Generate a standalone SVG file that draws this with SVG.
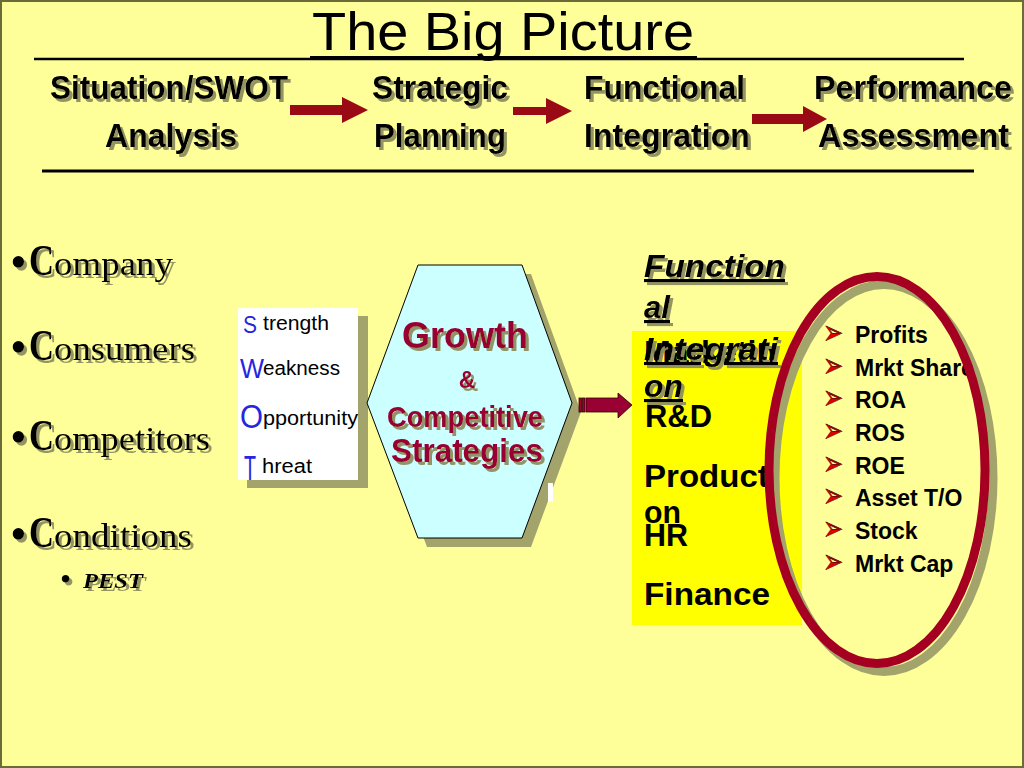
<svg xmlns="http://www.w3.org/2000/svg" width="1024" height="768" viewBox="0 0 1024 768">
<defs>
<filter id="ts" x="-10%" y="-20%" width="130%" height="150%">
<feDropShadow dx="3" dy="3" stdDeviation="0.5" flood-color="#8f8f5e" flood-opacity="0.95"/>
</filter>
<style>
.bg{fill:#FFFF99;stroke:#6b6b3a;stroke-width:2}
.sh{fill:#A3A36C}
.hd{font-family:"Liberation Sans",Arial,sans-serif;font-weight:bold;font-size:33px;fill:#000}
.arr{fill:#990A14}
.sw{font-family:"Liberation Sans Narrow","Liberation Sans",Arial,sans-serif;font-size:20px;fill:#000}
.swl{font-family:"Liberation Sans Narrow","Liberation Sans",Arial,sans-serif;fill:#2626E0}
.gr{font-family:"Liberation Sans",Arial,sans-serif;font-weight:bold;fill:#990033;text-anchor:start}
.tm{font-family:"Liberation Serif","Times New Roman",serif;fill:#000}
.fi{font-family:"Liberation Sans",Arial,sans-serif;font-weight:bold;font-style:italic;font-size:31px;fill:#000;text-decoration:underline}
.bx{font-family:"Liberation Sans",Arial,sans-serif;font-weight:bold;font-size:31px;fill:#000}
.bl{font-family:"Liberation Sans",Arial,sans-serif;font-weight:bold;font-size:23px;fill:#000}
.chev{font-family:"DejaVu Sans",sans-serif;font-size:34px;fill:#E00000;stroke:#5a0000;stroke-width:0.6}
</style>
</defs>

<rect class="bg" x="1" y="1" width="1022" height="766"/>

<g id="title">
<text x="312" y="50" textLength="382" lengthAdjust="spacingAndGlyphs" style="font-family:'Liberation Sans',Arial,sans-serif;font-size:54px;fill:#000">The Big Picture</text>
<line x1="310" y1="57.5" x2="697" y2="57.5" stroke="#000" stroke-width="3"/>
<line x1="34" y1="59" x2="964" y2="59" stroke="#000" stroke-width="2.5"/>
<line x1="42" y1="171" x2="974" y2="171" stroke="#000" stroke-width="3"/>
</g>

<g id="stage-swot" filter="url(#ts)">
<text class="hd" x="50" y="99" textLength="238" lengthAdjust="spacingAndGlyphs">Situation/SWOT</text>
<text class="hd" x="105" y="147" textLength="132" lengthAdjust="spacingAndGlyphs">Analysis</text>
</g>
<g id="stage-strategic" filter="url(#ts)">
<text class="hd" x="372" y="99" textLength="136" lengthAdjust="spacingAndGlyphs">Strategic</text>
<text class="hd" x="374" y="147" textLength="132" lengthAdjust="spacingAndGlyphs">Planning</text>
</g>
<g id="stage-functional" filter="url(#ts)">
<text class="hd" x="584" y="99" textLength="161" lengthAdjust="spacingAndGlyphs">Functional</text>
<text class="hd" x="584" y="147" textLength="166" lengthAdjust="spacingAndGlyphs">Integration</text>
</g>
<g id="stage-performance" filter="url(#ts)">
<text class="hd" x="814" y="99" textLength="198" lengthAdjust="spacingAndGlyphs">Performance</text>
<text class="hd" x="818" y="147" textLength="191" lengthAdjust="spacingAndGlyphs">Assessment</text>
</g>

<g id="four-c" filter="url(#ts)">
<text class="tm" x="10" y="278" font-size="48">•</text>
<text class="tm" x="29" y="275" font-size="45" font-weight="bold" textLength="25" lengthAdjust="spacingAndGlyphs">C</text>
<text class="tm" x="54" y="275" font-size="33" textLength="119" lengthAdjust="spacingAndGlyphs">ompany</text>
<text class="tm" x="10" y="363" font-size="48">•</text>
<text class="tm" x="29" y="360" font-size="45" font-weight="bold" textLength="25" lengthAdjust="spacingAndGlyphs">C</text>
<text class="tm" x="54" y="360" font-size="33" textLength="141" lengthAdjust="spacingAndGlyphs">onsumers</text>
<text class="tm" x="10" y="453" font-size="48">•</text>
<text class="tm" x="29" y="450" font-size="45" font-weight="bold" textLength="25" lengthAdjust="spacingAndGlyphs">C</text>
<text class="tm" x="54" y="450" font-size="33" textLength="156" lengthAdjust="spacingAndGlyphs">ompetitors</text>
<text class="tm" x="10" y="550" font-size="48">•</text>
<text class="tm" x="29" y="547" font-size="45" font-weight="bold" textLength="25" lengthAdjust="spacingAndGlyphs">C</text>
<text class="tm" x="54" y="547" font-size="33" textLength="138" lengthAdjust="spacingAndGlyphs">onditions</text>
<text class="tm" x="60" y="590" font-size="32">•</text>
<text class="tm" x="83" y="588" font-size="22" font-weight="bold" font-style="italic" textLength="60" lengthAdjust="spacingAndGlyphs">PEST</text>
</g>

<g id="swot-box">
<rect class="sh" x="247" y="316" width="121" height="172"/>
<rect x="238" y="308" width="120" height="172" fill="#FFFFFF"/>
<text class="swl" x="243" y="333" font-size="24" textLength="14" lengthAdjust="spacingAndGlyphs">S</text>
<text class="sw" x="263" y="330" textLength="66" lengthAdjust="spacingAndGlyphs">trength</text>
<text class="swl" x="240" y="378" font-size="28" textLength="24" lengthAdjust="spacingAndGlyphs">W</text>
<text class="sw" x="263" y="375" textLength="77" lengthAdjust="spacingAndGlyphs">eakness</text>
<text class="swl" x="240" y="428" font-size="34" textLength="23" lengthAdjust="spacingAndGlyphs">O</text>
<text class="sw" x="263" y="425" textLength="95" lengthAdjust="spacingAndGlyphs">pportunity</text>
<text class="swl" x="244" y="480" font-size="35" textLength="12" lengthAdjust="spacingAndGlyphs">T</text>
<text class="sw" x="262" y="473" textLength="50" lengthAdjust="spacingAndGlyphs">hreat</text>
</g>

<g id="strategies-hexagon">
<polygon class="sh" points="427,274 531,274 581,412 531,547 427,547 376,412"/>
<rect x="548" y="483" width="5" height="19" fill="#FFFFFF"/>
<polygon points="418,265 522,265 572,403 522,538 418,538 367,403" fill="#CCFFFF" stroke="#000" stroke-width="1"/>
<g filter="url(#ts)">
<text class="gr" x="402" y="348" font-size="36" textLength="126" lengthAdjust="spacingAndGlyphs">Growth</text>
<text class="gr" x="467" y="388" font-size="23" style="text-anchor:middle">&amp;</text>
<text class="gr" x="387" y="427" font-size="30" textLength="156" lengthAdjust="spacingAndGlyphs">Competitive</text>
<text class="gr" x="391" y="462" font-size="33" textLength="152" lengthAdjust="spacingAndGlyphs">Strategies</text>
</g>
</g>

<g id="functional-integration">
<rect x="632" y="331" width="170" height="294" fill="#FFFF00"/>
<text class="bx" x="644" y="363" textLength="132" lengthAdjust="spacingAndGlyphs">Marketin</text>
<g filter="url(#ts)">
<text class="fi" x="644" y="277" textLength="141" lengthAdjust="spacingAndGlyphs">Function</text>
<text class="fi" x="644" y="318" textLength="26" lengthAdjust="spacingAndGlyphs">al</text>
<text class="fi" x="644" y="360" textLength="134" lengthAdjust="spacingAndGlyphs">Integrati</text>
<text class="fi" x="644" y="397" textLength="39" lengthAdjust="spacingAndGlyphs">on</text>
</g>
<text class="bx" x="645" y="427" textLength="67" lengthAdjust="spacingAndGlyphs">R&amp;D</text>
<text class="bx" x="644" y="487" textLength="134" lengthAdjust="spacingAndGlyphs">Producti</text>
<text class="bx" x="644" y="523" textLength="37" lengthAdjust="spacingAndGlyphs">on</text>
<text class="bx" x="644" y="546" textLength="44" lengthAdjust="spacingAndGlyphs">HR</text>
<text class="bx" x="644" y="605" textLength="126" lengthAdjust="spacingAndGlyphs">Finance</text>
</g>

<g id="performance-measures">
<ellipse cx="884" cy="478" rx="109" ry="193.5" fill="none" stroke="#A3A36C" stroke-width="9"/>
<text class="chev" x="823" y="344" textLength="20" lengthAdjust="spacingAndGlyphs">➢</text>
<text class="bl" x="855" y="343">Profits</text>
<text class="chev" x="823" y="377" textLength="20" lengthAdjust="spacingAndGlyphs">➢</text>
<text class="bl" x="855" y="376">Mrkt Share</text>
<text class="chev" x="823" y="409" textLength="20" lengthAdjust="spacingAndGlyphs">➢</text>
<text class="bl" x="855" y="408">ROA</text>
<text class="chev" x="823" y="442" textLength="20" lengthAdjust="spacingAndGlyphs">➢</text>
<text class="bl" x="855" y="441">ROS</text>
<text class="chev" x="823" y="475" textLength="20" lengthAdjust="spacingAndGlyphs">➢</text>
<text class="bl" x="855" y="474">ROE</text>
<text class="chev" x="823" y="507" textLength="20" lengthAdjust="spacingAndGlyphs">➢</text>
<text class="bl" x="855" y="506">Asset T/O</text>
<text class="chev" x="823" y="540" textLength="20" lengthAdjust="spacingAndGlyphs">➢</text>
<text class="bl" x="855" y="539">Stock</text>
<text class="chev" x="823" y="573" textLength="20" lengthAdjust="spacingAndGlyphs">➢</text>
<text class="bl" x="855" y="572">Mrkt Cap</text>
<ellipse cx="877" cy="470" rx="108" ry="193.5" fill="none" stroke="#A50021" stroke-width="9"/>
</g>

<g id="connectors">
<polygon class="arr" points="290,105 342,105 342,97 368,110 342,123 342,115 290,115"/>
<polygon class="arr" points="513,107 546,107 546,98 572,111 546,124 546,115 513,115"/>
<polygon class="arr" points="752,114 803,114 803,106 827,119 803,132 803,124 752,124"/>
<g fill="#990033" stroke="#300000" stroke-width="0.8">
<rect x="579" y="398" width="2.5" height="14"/>
<rect x="582.5" y="398" width="2.5" height="14"/>
<polygon points="586,398 618,398 618,393 632,405 618,418 618,412 586,412"/>
</g>
</g>
</svg>
